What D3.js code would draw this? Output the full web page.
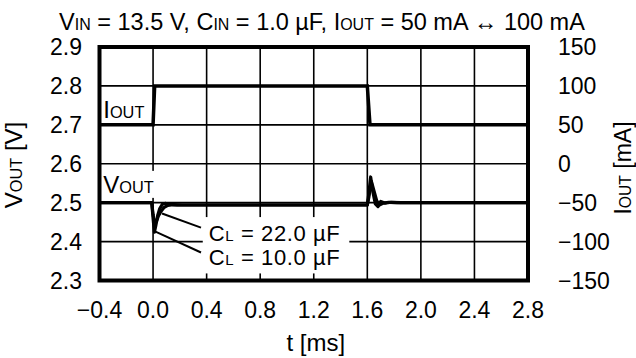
<!DOCTYPE html>
<html><head><meta charset="utf-8">
<script src="https://cdn.jsdelivr.net/npm/d3@7"></script>
<style>
body{margin:0;background:#fff}
svg text{font-family:Arial,"Liberation Sans",Helvetica,sans-serif;fill:#000}
</style>
</head><body>
<svg id="c" width="636" height="358"></svg>
<script>
// ---- data ----
const xTicks = [-0.4, 0.0, 0.4, 0.8, 1.2, 1.6, 2.0, 2.4, 2.8];
const yTicks = [2.3, 2.4, 2.5, 2.6, 2.7, 2.8, 2.9];
const y2Ticks = [-150, -100, -50, 0, 50, 100, 150];

// IOUT step (mA)
const iTime = [-0.4, 0.0, 0.012, 1.6, 1.62, 2.8];
const iOut  = [50, 50, 100, 100, 50, 50];

// VOUT, CL = 10.0 uF
const t10 = [-0.4, -0.01, 0.0, 0.01, 0.02, 0.035, 0.05, 0.07, 0.09, 0.12, 0.18, 0.3, 1.6, 1.61, 1.625, 1.64, 1.66, 1.68, 1.70, 1.73, 1.78, 1.85, 2.8];
const v10 = [2.5, 2.5, 2.46, 2.424, 2.44, 2.468, 2.485, 2.496, 2.498, 2.496, 2.494, 2.494, 2.494, 2.52, 2.566, 2.53, 2.497, 2.49, 2.503, 2.499, 2.501, 2.5, 2.5];

// VOUT, CL = 22.0 uF
const t22 = [-0.4, -0.01, 0.0, 0.012, 0.025, 0.04, 0.06, 0.08, 0.11, 0.15, 0.22, 0.3, 1.6, 1.612, 1.63, 1.65, 1.67, 1.69, 1.72, 1.76, 1.82, 2.8];
const v22 = [2.5, 2.5, 2.47, 2.445, 2.452, 2.466, 2.478, 2.487, 2.493, 2.495, 2.494, 2.494, 2.494, 2.515, 2.555, 2.53, 2.505, 2.494, 2.499, 2.501, 2.5, 2.5];

// annotation leader lines (data units: [t0, v0, t1, v1])
const lead22 = [0.067, 2.472, 0.358, 2.436];
const lead10 = [0.014, 2.426, 0.358, 2.372];

// ---- layout ----
const L = 99.5, R = 528, T = 47, B = 280.5;
const SUB = 0.68;
const svg = d3.select("#c");
const x = d3.scaleLinear().domain([-0.4, 2.8]).range([L, R]);
const y = d3.scaleLinear().domain([2.3, 2.9]).range([B, T]);
const y2 = d3.scaleLinear().domain([-150, 150]).range([B, T]);
const fmt1 = d3.format(".1f");

// gridlines
svg.append("g").selectAll("line").data(xTicks.slice(1, -1)).join("line")
  .attr("x1", d => x(d)).attr("x2", d => x(d)).attr("y1", T).attr("y2", B)
  .attr("stroke", "#000").attr("stroke-width", 1.6);
svg.append("g").selectAll("line").data(yTicks.slice(1, -1)).join("line")
  .attr("y1", d => y(d)).attr("y2", d => y(d)).attr("x1", L).attr("x2", R)
  .attr("stroke", "#000").attr("stroke-width", 1.6);

// text with small-cap style subscripts
function rich(g, parts, size) {
  const t = g.append("text").attr("font-size", size);
  parts.forEach(p => {
    t.append("tspan").attr("font-size", p[1] ? size * SUB : size).text(p[0]);
  });
  return t;
}

// in-plot labels with white backgrounds
const labG = svg.append("g");
function boxedLabel(lines, xPos, yPos, size, pad, spacing) {
  const g = labG.append("g");
  const rect = g.append("rect").attr("fill", "#fff");
  lines.forEach((ln, i) => {
    rich(g, ln, size).attr("x", xPos).attr("y", yPos[i]).attr("letter-spacing", spacing || 0);
  });
  const bb = g.node().getBBox();
  rect.attr("x", bb.x - pad[0]).attr("y", bb.y - pad[1])
      .attr("width", bb.width + pad[0] + pad[2]).attr("height", bb.height + pad[1] + pad[3]);
  return g;
}

const lineGen = d3.line().x(d => x(d[0])).y(d => y(d[1]));
const line2Gen = d3.line().x(d => x(d[0])).y(d => y2(d[1]));

boxedLabel([[["I"], ["OUT", 1]]], x(-0.372), [y2(60) + 1], 24, [2, 0, 2, 0]);
boxedLabel([[["V"], ["OUT", 1]]], x(-0.372), [y(2.52) - 2], 24, [2, 0, 2, 0]);
boxedLabel([
  [["C"], ["L", 1], [" = 22.0 \u00b5F"]],
  [["C"], ["L", 1], [" = 10.0 \u00b5F"]]
], x(0.416), [y(2.4) - 0.5, y(2.34) + 0.5], 22, [6, 4, 9, 3], 0.6);

// data lines
svg.append("path").datum(d3.zip(iTime, iOut)).attr("d", line2Gen)
  .attr("fill", "none").attr("stroke", "#000").attr("stroke-width", 3.5);
svg.append("path").datum(d3.zip(t22, v22)).attr("d", lineGen)
  .attr("fill", "none").attr("stroke", "#000").attr("stroke-width", 3.2).attr("stroke-linejoin", "round");
svg.append("path").datum(d3.zip(t10, v10)).attr("d", lineGen)
  .attr("fill", "none").attr("stroke", "#000").attr("stroke-width", 3.2).attr("stroke-linejoin", "round");

// leader lines
[lead22, lead10].forEach(l => {
  svg.append("line").attr("x1", x(l[0])).attr("y1", y(l[1])).attr("x2", x(l[2])).attr("y2", y(l[3]))
    .attr("stroke", "#000").attr("stroke-width", 2);
});

// frame
svg.append("rect").attr("x", L).attr("y", T).attr("width", R - L).attr("height", B - T)
  .attr("fill", "none").attr("stroke", "#000").attr("stroke-width", 4);

// tick labels
const tickSize = 23;
svg.append("g").selectAll("text").data(xTicks).join("text")
  .attr("x", d => x(d)).attr("y", 318).attr("text-anchor", "middle").attr("font-size", tickSize)
  .text(d => d < 0 ? "\u2212" + fmt1(-d) : fmt1(d));
svg.append("g").selectAll("text").data(yTicks).join("text")
  .attr("x", 82).attr("y", d => y(d) + 8).attr("text-anchor", "end").attr("font-size", tickSize)
  .text(d => fmt1(d));
svg.append("g").selectAll("text").data(y2Ticks).join("text")
  .attr("x", 558).attr("y", d => y2(d) + 8).attr("text-anchor", "start").attr("font-size", tickSize)
  .text(d => d < 0 ? "\u2212" + Math.abs(d) : String(d));

// axis titles
rich(svg, [["t [ms]"]], 24).attr("x", (L + R) / 2 + 2).attr("y", 351).attr("text-anchor", "middle");
rich(svg, [["V"], ["OUT", 1], [" [V]"]], 24).attr("text-anchor", "middle")
  .attr("transform", "translate(22,165) rotate(-90)");
rich(svg, [["I"], ["OUT", 1], [" [mA]"]], 23).attr("text-anchor", "middle")
  .attr("transform", "translate(631,168) rotate(-90)");

// title
rich(svg, [["V"], ["IN", 1], [" = 13.5 V, C"], ["IN", 1], [" = 1.0 \u00b5F, I"], ["OUT", 1], [" = 50 mA \u2194 100 mA"]], 23.5)
  .attr("x", 322).attr("y", 30).attr("text-anchor", "middle");
</script>
</body></html>
